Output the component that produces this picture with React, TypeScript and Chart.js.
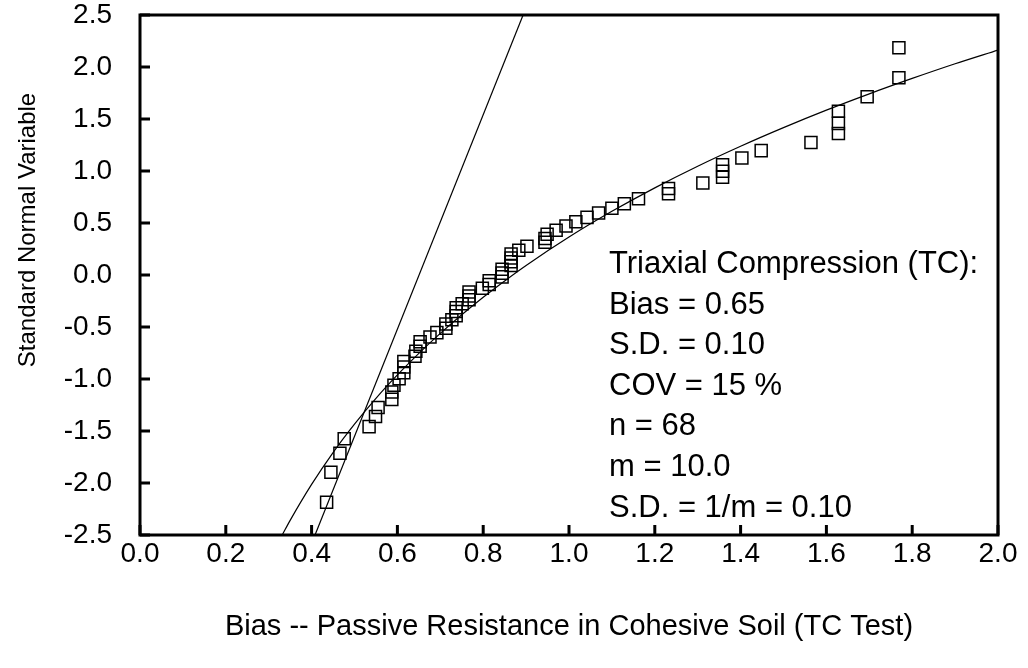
import React, { useEffect, useRef } from "react";
import { Chart, registerables } from "chart.js";

Chart.register(...registerables);

// Axis ticks
const X_TICKS = [0.0, 0.2, 0.4, 0.6, 0.8, 1.0, 1.2, 1.4, 1.6, 1.8, 2.0];
const Y_TICKS = [-2.5, -2.0, -1.5, -1.0, -0.5, 0.0, 0.5, 1.0, 1.5, 2.0, 2.5];

// Measured bias values (sorted) and their standard normal variables
const BIAS = [
  0.435, 0.445, 0.466, 0.476, 0.534, 0.549, 0.555, 0.587, 0.587, 0.592,
  0.604, 0.615, 0.615, 0.615, 0.641, 0.643, 0.653, 0.653, 0.676, 0.692,
  0.713, 0.713, 0.727, 0.737, 0.737, 0.737, 0.751, 0.767, 0.767, 0.767,
  0.798, 0.814, 0.814, 0.844, 0.844, 0.844, 0.865, 0.865, 0.865, 0.865,
  0.883, 0.902, 0.944, 0.944, 0.949, 0.970, 0.993, 1.016, 1.042, 1.069,
  1.100, 1.129, 1.162, 1.232, 1.232, 1.312, 1.358, 1.358, 1.358, 1.403,
  1.448, 1.564, 1.628, 1.628, 1.628, 1.695, 1.769, 1.769,
];
const SNV = [
  -2.185, -1.896, -1.713, -1.574, -1.458, -1.36, -1.274, -1.196, -1.125, -1.059,
  -0.997, -0.939, -0.884, -0.832, -0.781, -0.733, -0.686, -0.641, -0.597, -0.554,
  -0.512, -0.471, -0.431, -0.391, -0.352, -0.314, -0.276, -0.238, -0.201, -0.164,
  -0.128, -0.091, -0.055, -0.018, 0.018, 0.055, 0.091, 0.128, 0.164, 0.201,
  0.238, 0.276, 0.314, 0.352, 0.391, 0.431, 0.471, 0.512, 0.554, 0.597,
  0.641, 0.686, 0.733, 0.781, 0.832, 0.884, 0.939, 0.997, 1.059, 1.125,
  1.196, 1.274, 1.36, 1.458, 1.574, 1.713, 1.896, 2.185,
];

// Fitted curve
const CURVE_X = [0.3315, 0.35, 0.4, 0.45, 0.5, 0.55, 0.6, 0.65, 0.7, 0.75, 0.8, 0.85, 0.9, 1.0, 1.1, 1.2, 1.3, 1.4, 1.5, 1.6, 1.7, 1.8, 1.9, 2.0];
const CURVE_Z = [-2.5, -2.359, -2.013, -1.707, -1.434, -1.186, -0.961, -0.753, -0.561, -0.382, -0.214, -0.057, 0.092, 0.365, 0.612, 0.838, 1.046, 1.238, 1.417, 1.585, 1.742, 1.89, 2.031, 2.163];

// Fitted straight tail line
const LINE_X = [0.408, 0.893];
const LINE_Z = [-2.5, 2.5];

const NOTE_LINES = [
  "Triaxial Compression (TC):",
  "Bias = 0.65",
  "S.D. = 0.10",
  "COV = 15 %",
  "n = 68",
  "m = 10.0",
  "S.D. = 1/m = 0.10",
];

const X_TITLE = "Bias -- Passive Resistance in Cohesive Soil (TC Test)";
const Y_TITLE = "Standard Normal Variable";

const FONT = "'Liberation Sans', Arial, Helvetica, sans-serif";

export default function App() {
  const ref = useRef<HTMLCanvasElement>(null);

  useEffect(() => {
    document.body.style.margin = "0";
    const canvas = ref.current;
    if (!canvas) return;

    const decor = {
      id: "decor",
      afterDraw(chart: any) {
        const { ctx, chartArea: a, scales } = chart;
        const xs = scales.x;
        const ys = scales.y;
        ctx.save();
        ctx.strokeStyle = "#000";
        ctx.lineWidth = 3;
        ctx.strokeRect(a.left, a.top, a.right - a.left, a.bottom - a.top);
        ctx.beginPath();
        X_TICKS.forEach((v) => {
          const px = xs.getPixelForValue(v);
          ctx.moveTo(px, a.bottom);
          ctx.lineTo(px, a.bottom - 10);
        });
        Y_TICKS.forEach((v) => {
          const py = ys.getPixelForValue(v);
          ctx.moveTo(a.left, py);
          ctx.lineTo(a.left + 10, py);
        });
        ctx.stroke();

        ctx.fillStyle = "#000";
        ctx.font = `31px ${FONT}`;
        ctx.textAlign = "left";
        ctx.textBaseline = "alphabetic";
        NOTE_LINES.forEach((t, i) => {
          ctx.fillText(t, a.left + 469, a.top + 258 + i * 40.6);
        });

        ctx.font = `29px ${FONT}`;
        ctx.textAlign = "center";
        ctx.textBaseline = "middle";
        ctx.fillText(X_TITLE, (a.left + a.right) / 2, 627);

        ctx.save();
        ctx.translate(28, 230);
        ctx.rotate(-Math.PI / 2);
        ctx.font = `24px ${FONT}`;
        ctx.fillText(Y_TITLE, 0, 0);
        ctx.restore();

        ctx.restore();
      },
    };

    const chart = new Chart(canvas, {
      type: "scatter",
      data: {
        datasets: [
          {
            label: "Data",
            data: BIAS.map((x, i) => ({ x, y: SNV[i] })),
            pointStyle: "rect",
            pointRadius: 8.5,
            pointBackgroundColor: "rgba(0,0,0,0)",
            pointBorderColor: "#000",
            pointBorderWidth: 1.5,
            showLine: false,
          },
          {
            label: "Curve",
            data: CURVE_X.map((x, i) => ({ x, y: CURVE_Z[i] })),
            showLine: true,
            borderColor: "#000",
            borderWidth: 1.2,
            pointRadius: 0,
            cubicInterpolationMode: "monotone",
          },
          {
            label: "Line",
            data: LINE_X.map((x, i) => ({ x, y: LINE_Z[i] })),
            showLine: true,
            borderColor: "#000",
            borderWidth: 1.2,
            pointRadius: 0,
          },
        ],
      },
      options: {
        responsive: false,
        animation: false,
        devicePixelRatio: 1,
        layout: { padding: { left: 0, right: 30, top: 15, bottom: 0 } },
        plugins: {
          legend: { display: false },
          tooltip: { enabled: false },
          title: { display: false },
        },
        scales: {
          x: {
            type: "linear",
            min: 0,
            max: 2,
            grid: { display: false, drawTicks: false },
            border: { display: false },
            afterBuildTicks: (s: any) => {
              s.ticks = X_TICKS.map((v) => ({ value: v }));
            },
            afterFit: (s: any) => {
              s.height = 133;
              s.paddingLeft = 0;
              s.paddingRight = 0;
            },
            ticks: {
              autoSkip: false,
              maxRotation: 0,
              padding: 2,
              color: "#000",
              font: { family: FONT, size: 28 },
              callback: (v: any) => Number(v).toFixed(1),
            },
          },
          y: {
            type: "linear",
            min: -2.5,
            max: 2.5,
            grid: { display: false, drawTicks: false },
            border: { display: false },
            afterBuildTicks: (s: any) => {
              s.ticks = Y_TICKS.map((v) => ({ value: v }));
            },
            afterFit: (s: any) => {
              s.width = 140;
              s.paddingTop = 0;
              s.paddingBottom = 0;
            },
            ticks: {
              autoSkip: false,
              padding: 28,
              color: "#000",
              font: { family: FONT, size: 28 },
              callback: (v: any) => Number(v).toFixed(1),
            },
          },
        },
      },
      plugins: [decor],
    });

    return () => chart.destroy();
  }, []);

  return (
    <div style={{ width: 1028, height: 668 }}>
      <canvas ref={ref} width={1028} height={668} style={{ display: "block" }} />
    </div>
  );
}
